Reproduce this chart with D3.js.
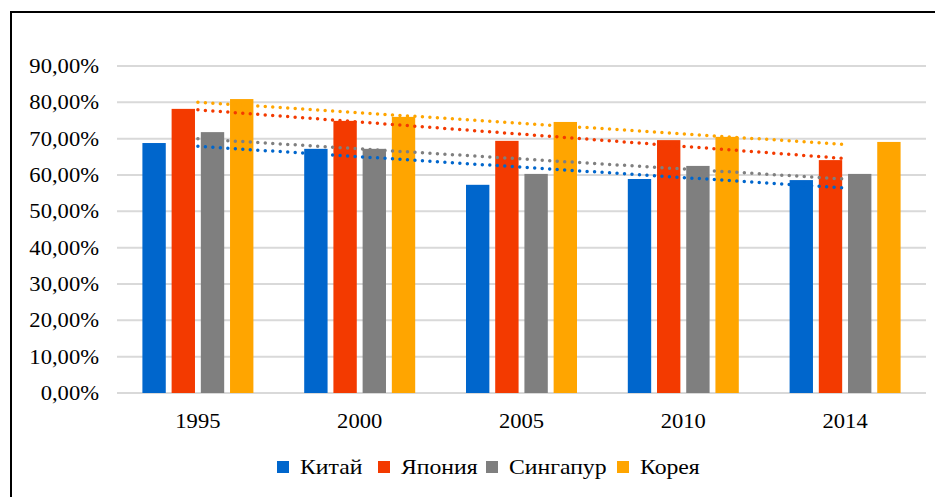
<!DOCTYPE html>
<meta charset="utf-8">
<style>
	body {
		margin: 0;
		background: #fff;
	}

	text {
		font-family: "Liberation Serif", "Times New Roman", serif;
		fill: #000;
	}

	.grid line {
		stroke: #d9d9d9;
		stroke-width: 2;
	}
</style>

<body>
	<script src="https://d3js.org/d3.v7.min.js"></script>
	<script>
		var years = ["1995", "2000", "2005", "2010", "2014"];
		var countries = ["Китай", "Япония", "Сингапур", "Корея"];
		var colors = ["#0066cc", "#f33a00", "#7f7f7f", "#ffa500"];

		var china = [68.8, 67.2, 57.3, 58.9, 58.6];
		var japan = [78.2, 74.9, 69.4, 69.6, 64.1];
		var singapore = [71.8, 67.2, 60.3, 62.5, 60.3];
		var korea = [80.9, 76.0, 74.6, 70.5, 69.1];

		var yTicks = [0, 10, 20, 30, 40, 50, 60, 70, 80, 90];

		var seriesValues = [china, japan, singapore, korea];

		var width = 935,
			height = 497;

		// text in the picture is a bit stretched sideways
		var stretch = 1.13;

		var svg = d3.select("body").append("svg")
			.attr("width", width)
			.attr("height", height);

		// outer frame
		svg.append("path")
			.attr("d", "M11," + height + "V12H" + width)
			.attr("fill", "none")
			.attr("stroke", "#000")
			.attr("stroke-width", 2);

		var x0 = d3.scaleBand()
			.domain(years)
			.range([117, 926])
			.paddingInner(0.314)
			.paddingOuter(0.157);

		var x1 = d3.scaleBand()
			.domain(countries)
			.range([0, x0.bandwidth()])
			.paddingInner(0.2)
			.paddingOuter(0);

		var y = d3.scaleLinear()
			.domain([0, 90])
			.range([393, 66]);

		var fmt = function(v) {
			return d3.format(".2f")(v).replace(".", ",") + "%";
		};

		// gridlines
		svg.append("g")
			.attr("class", "grid")
			.selectAll("line")
			.data(yTicks)
			.enter().append("line")
			.attr("x1", 117)
			.attr("x2", 926)
			.attr("y1", function(d) { return y(d); })
			.attr("y2", function(d) { return y(d); });

		// y labels
		svg.append("g")
			.selectAll("text")
			.data(yTicks)
			.enter().append("text")
			.attr("transform", function(d) {
				return "translate(99," + y(d) + ") scale(" + stretch + ",1)";
			})
			.attr("dy", "0.35em")
			.attr("text-anchor", "end")
			.style("font-size", "20px")
			.text(fmt);

		// x labels
		svg.append("g")
			.selectAll("text")
			.data(years)
			.enter().append("text")
			.attr("transform", function(d) {
				return "translate(" + (x0(d) + x0.bandwidth() / 2) + ",421) scale(" + stretch + ",1)";
			})
			.attr("dy", "0.35em")
			.attr("text-anchor", "middle")
			.style("font-size", "20px")
			.text(function(d) { return d; });

		// bars
		var groups = svg.append("g")
			.selectAll("g")
			.data(years)
			.enter().append("g")
			.attr("transform", function(d) { return "translate(" + x0(d) + ",0)"; });

		groups.selectAll("rect")
			.data(function(d, i) {
				return countries.map(function(c, k) {
					return { country: c, value: seriesValues[k][i], color: colors[k] };
				});
			})
			.enter().append("rect")
			.attr("x", function(d) { return x1(d.country); })
			.attr("width", x1.bandwidth())
			.attr("y", function(d) { return y(d.value); })
			.attr("height", function(d) { return y(0) - y(d.value); })
			.attr("fill", function(d) { return d.color; });

		// linear trendlines
		var trend = svg.append("g");
		seriesValues.forEach(function(vals, k) {
			var n = vals.length;
			var mx = (n + 1) / 2;
			var my = d3.mean(vals);
			var sxy = 0, sxx = 0;
			vals.forEach(function(v, i) {
				sxy += (i + 1 - mx) * (v - my);
				sxx += (i + 1 - mx) * (i + 1 - mx);
			});
			var slope = sxy / sxx;
			var a = my + slope * (1 - mx);
			var b = my + slope * (n - mx);
			var xa = x0(years[0]) + x0.bandwidth() / 2;
			var xb = x0(years[n - 1]) + x0.bandwidth() / 2;
			trend.append("line")
				.attr("x1", xa)
				.attr("x2", xb)
				.attr("y1", y(a))
				.attr("y2", y(b))
				.attr("stroke", colors[k])
				.attr("stroke-width", 3.5)
				.attr("stroke-linecap", "round")
				.attr("stroke-dasharray", "0 7.5");
		});

		// legend
		var legendX = [277, 378, 486, 617];
		var legend = svg.append("g")
			.selectAll("g")
			.data(countries)
			.enter().append("g")
			.attr("transform", function(d, i) { return "translate(" + legendX[i] + ",467)"; });

		legend.append("rect")
			.attr("x", 0)
			.attr("y", -6)
			.attr("width", 12)
			.attr("height", 12)
			.attr("fill", function(d, i) { return colors[i]; });

		legend.append("text")
			.attr("transform", "translate(23,0) scale(" + stretch + ",1)")
			.attr("dy", "0.35em")
			.style("font-size", "21px")
			.text(function(d) { return d; });
	</script>
</body>
